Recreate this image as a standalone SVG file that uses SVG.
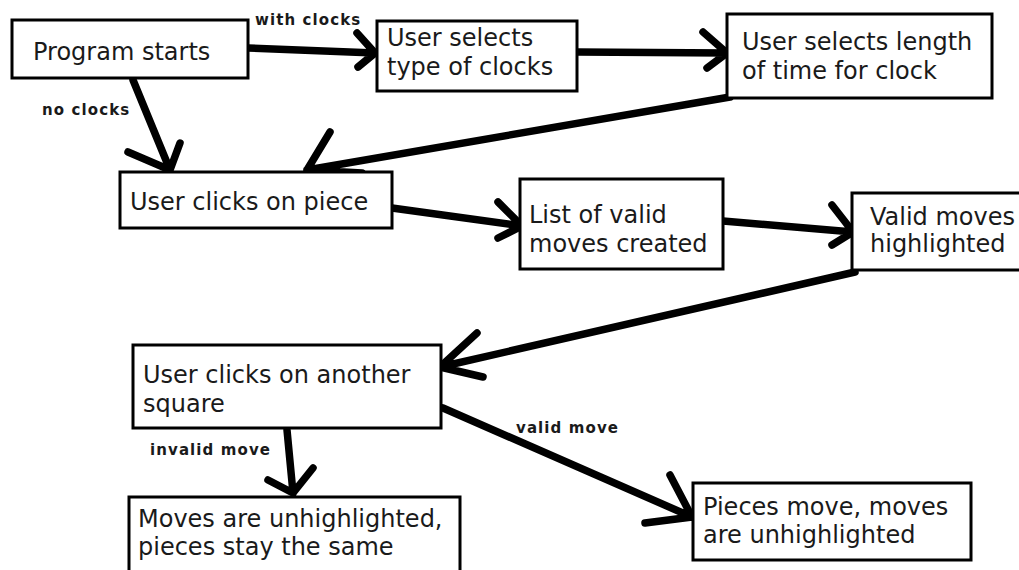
<svg xmlns="http://www.w3.org/2000/svg" width="1019" height="570" viewBox="0 0 1019 570">
<style>
.box{fill:#fff;stroke:#000;stroke-width:3}
.t{font-family:"DejaVu Sans","Liberation Sans",sans-serif;font-size:24px;fill:#1a1a1a}
.lbl{font-family:"DejaVu Sans","Liberation Sans",sans-serif;font-size:15px;font-weight:bold;letter-spacing:1.1px;fill:#1a1a1a}
.ar{fill:none;stroke:#000;stroke-width:7.5;stroke-linecap:round;stroke-linejoin:round}
</style>
<rect width="1019" height="570" fill="#fff"/>
<g id="connectors">
<path class="ar" d="M248,48 L375,53 M357,33 L375,53 L358,67"/>
<path class="ar" d="M133,80 L170,170 M128,152 L170,170 L180,143"/>
<path class="ar" d="M577,52 L727,53 M703,32 L727,53 L707,68"/>
<path class="ar" d="M730,97 L307,170 M330,132 L307,170 L362,173"/>
<path class="ar" d="M392,208 L522,226 M498,202 L522,226 L498,238"/>
<path class="ar" d="M723,221 L853,232 M832,205 L853,232 L832,245"/>
<path class="ar" d="M855,272 L440,367 M477,333 L440,367 L483,377"/>
<path class="ar" d="M287,430 L293,493 M268,480 L293,493 L313,468"/>
<path class="ar" d="M443,408 L692,517 M670,475 L692,517 L645,523"/>
<text class="lbl" x="255" y="25">with clocks</text>
<text class="lbl" x="42" y="115">no clocks</text>
<text class="lbl" x="150" y="455">invalid move</text>
<text class="lbl" x="516" y="433">valid move</text>
</g>
<g id="program-starts">
<rect class="box" x="12" y="20" width="236" height="58"/>
<text class="t" x="33" y="60">Program starts</text>
</g>
<g id="select-type">
<rect class="box" x="377" y="21" width="200" height="70"/>
<text class="t" x="387" y="46">User selects</text>
<text class="t" x="387" y="75">type of clocks</text>
</g>
<g id="select-length">
<rect class="box" x="727" y="14" width="265" height="84"/>
<text class="t" x="742" y="50">User selects length</text>
<text class="t" x="742" y="79">of time for clock</text>
</g>
<g id="clicks-piece">
<rect class="box" x="120" y="172" width="272" height="56"/>
<text class="t" x="130" y="210">User clicks on piece</text>
</g>
<g id="list-valid">
<rect class="box" x="520" y="179" width="203" height="90"/>
<text class="t" x="529" y="223">List of valid</text>
<text class="t" x="529" y="252">moves created</text>
</g>
<g id="valid-highlighted">
<rect class="box" x="852" y="193" width="180" height="77"/>
<text class="t" x="870" y="225">Valid moves</text>
<text class="t" x="870" y="252">highlighted</text>
</g>
<g id="clicks-square">
<rect class="box" x="133" y="345" width="308" height="83"/>
<text class="t" x="143" y="383">User clicks on another</text>
<text class="t" x="143" y="412">square</text>
</g>
<g id="unhighlighted-same">
<rect class="box" x="129" y="497" width="331" height="90"/>
<text class="t" x="138" y="527">Moves are unhighlighted,</text>
<text class="t" x="138" y="555">pieces stay the same</text>
</g>
<g id="pieces-move">
<rect class="box" x="693" y="483" width="278" height="77"/>
<text class="t" x="703" y="515">Pieces move, moves</text>
<text class="t" x="703" y="543">are unhighlighted</text>
</g>
</svg>
